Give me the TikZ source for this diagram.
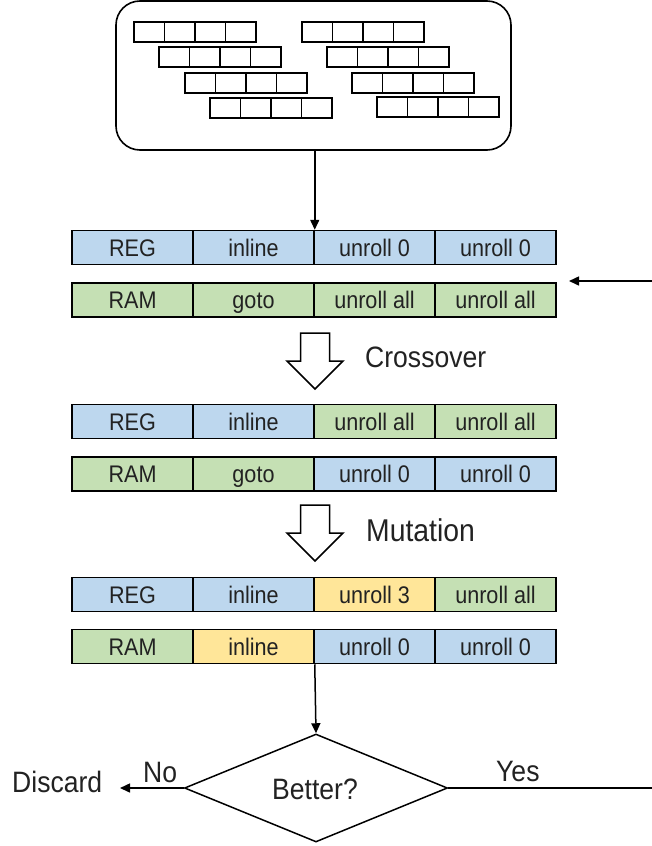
\documentclass[tikz,border=0pt]{standalone}
\usepackage{fontspec}
\setmainfont{Liberation Sans}[FakeStretch=0.9]
\usetikzlibrary{arrows.meta,shapes.geometric}
\definecolor{regblue}{RGB}{189,215,238}
\definecolor{ramgreen}{RGB}{197,224,180}
\definecolor{mutyellow}{RGB}{255,230,153}
\definecolor{ink}{RGB}{34,34,34}
% one cell of a chromosome: name, position, fill style, text
\newcommand\genecell[4]{\node[gene,#3] (#1) at #2 {#4};}
\begin{document}
\begin{tikzpicture}[x=1pt,y=-1pt,
  gene/.style={draw=black, line width=1.5pt, minimum width=121pt, minimum height=34pt,
    inner sep=0pt, text height=17pt, text depth=0pt, text=ink,
    font=\fontsize{24}{28}\selectfont},
  gblue/.style={fill=regblue},
  ggreen/.style={fill=ramgreen},
  gyellow/.style={fill=mutyellow},
  txt/.style={inner sep=0pt, text=ink, font=\fontsize{29.5}{34}\selectfont},
  flow/.style={line width=1.5pt, -{Triangle[length=10pt,width=9pt]}},
  hollow/.pic={\draw[line width=1.5pt, fill=white]
    (-14.5,0) -- (14.5,0) -- (14.5,28) -- (28,28) -- (0,56) -- (-28,28) -- (-14.5,28) -- cycle;}
]
\useasboundingbox (0,0) rectangle (652,846);

% population pool
\node[draw, line width=1.6pt, rounded corners=24pt, minimum width=395pt,
  minimum height=149pt, inner sep=0pt] (pool) at (313.5,75.5) {};
\foreach \sx/\sy in {134/22,159/47,185/73,210/98,302/22,327/47,352/73,377/97}
  \foreach \k in {0,...,3}
    \draw[line width=1.4pt] ({\sx+\k*30.5},\sy) rectangle ++(30.5,20);

% selected parents
\genecell{r1c1}{(132.5,247.5)}{gblue}{REG}
\genecell{r1c2}{(253.5,247.5)}{gblue}{inline}
\genecell{r1c3}{(374.5,247.5)}{gblue}{unroll 0}
\genecell{r1c4}{(495.5,247.5)}{gblue}{unroll 0}
\genecell{r2c1}{(132.5,300)}{ggreen}{RAM}
\genecell{r2c2}{(253.5,300)}{ggreen}{goto}
\genecell{r2c3}{(374.5,300)}{ggreen}{unroll all}
\genecell{r2c4}{(495.5,300)}{ggreen}{unroll all}

% after crossover
\genecell{r3c1}{(132.5,421.5)}{gblue}{REG}
\genecell{r3c2}{(253.5,421.5)}{gblue}{inline}
\genecell{r3c3}{(374.5,421.5)}{ggreen}{unroll all}
\genecell{r3c4}{(495.5,421.5)}{ggreen}{unroll all}
\genecell{r4c1}{(132.5,474)}{ggreen}{RAM}
\genecell{r4c2}{(253.5,474)}{ggreen}{goto}
\genecell{r4c3}{(374.5,474)}{gblue}{unroll 0}
\genecell{r4c4}{(495.5,474)}{gblue}{unroll 0}

% after mutation
\genecell{r5c1}{(132.5,594.5)}{gblue}{REG}
\genecell{r5c2}{(253.5,594.5)}{gblue}{inline}
\genecell{r5c3}{(374.5,594.5)}{gyellow}{unroll 3}
\genecell{r5c4}{(495.5,594.5)}{ggreen}{unroll all}
\genecell{r6c1}{(132.5,646.5)}{ggreen}{RAM}
\genecell{r6c2}{(253.5,646.5)}{gyellow}{inline}
\genecell{r6c3}{(374.5,646.5)}{gblue}{unroll 0}
\genecell{r6c4}{(495.5,646.5)}{gblue}{unroll 0}

% operators
\pic at (315,333) {hollow};
\node[txt, anchor=base west] (xover) at (365,367.5) {Crossover};
\pic at (315,505) {hollow};
\node[txt, anchor=base west, font=\fontsize{31.5}{36}\selectfont] (mutate) at (366,541.5) {Mutation};

% selection
\node[draw, diamond, line width=1.5pt, minimum width=263pt, minimum height=108pt,
  inner sep=0pt, aspect=2.4] (better) at (316,788) {};
\node[txt, anchor=base] (bettertxt) at (315,799) {Better?};
\node[txt, anchor=base west] (discard) at (12,792.5) {Discard};
\node[txt, anchor=base west] (no) at (143,782) {No};
\node[txt, anchor=base west] (yes) at (496,781) {Yes};
\coordinate (feedin) at (652,281);
\coordinate (feedtip) at (569,281);
\coordinate (yesend) at (652,788);
\coordinate (discardtip) at (120,788);

% connectors
\draw[flow] (pool.south -| r1c2.east) -- (r1c2.north east);
\draw[flow] (feedin) -- (feedtip);
\draw[flow] (r6c2.south east) -- (better.north);
\draw[flow] (better.west) -- (discardtip);
\draw[line width=1.5pt] (better.east) -- (yesend);
\end{tikzpicture}
\end{document}
